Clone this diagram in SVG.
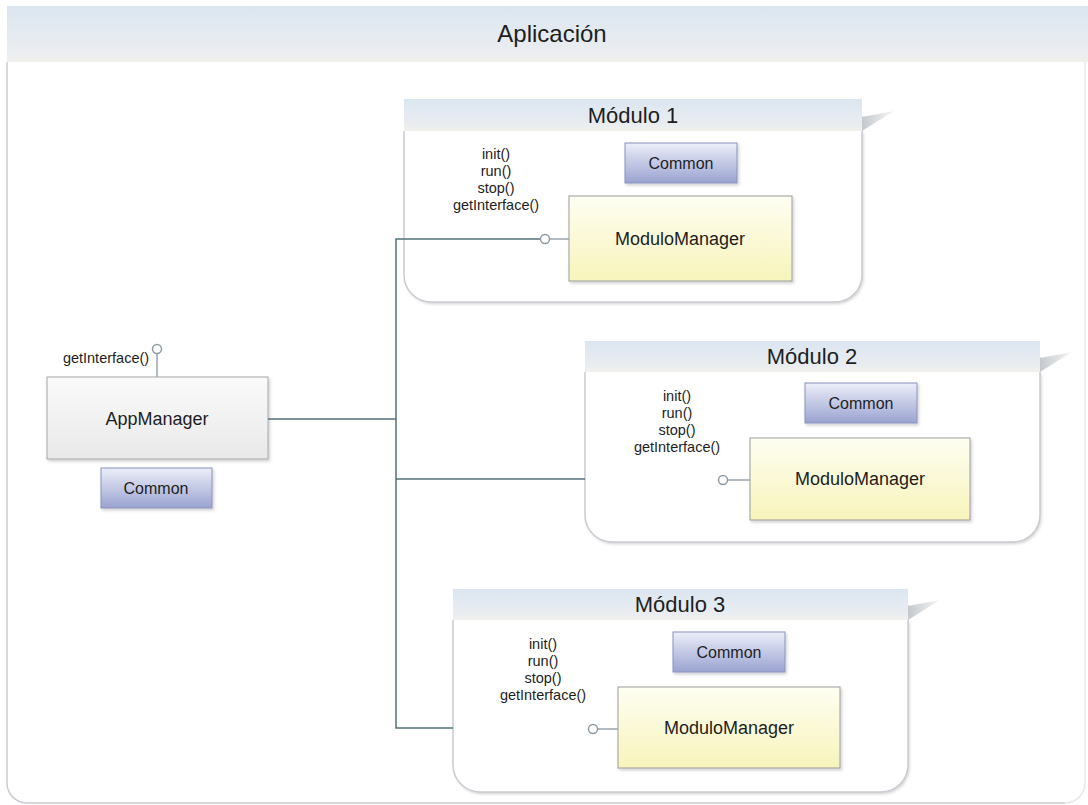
<svg xmlns="http://www.w3.org/2000/svg" width="1088" height="805" viewBox="0 0 1088 805">
  <defs>
    <linearGradient id="hdr" x1="0" y1="0" x2="0" y2="1">
      <stop offset="0" stop-color="#dbe6f1"/>
      <stop offset="0.8" stop-color="#eaedf0"/>
      <stop offset="1" stop-color="#f1efeb"/>
    </linearGradient>
    <linearGradient id="tab" x1="0" y1="0" x2="1" y2="0">
      <stop offset="0" stop-color="#c4c8cd"/>
      <stop offset="1" stop-color="#f6f6f6"/>
    </linearGradient>
    <linearGradient id="common" x1="0" y1="0" x2="0" y2="1">
      <stop offset="0" stop-color="#eceef8"/>
      <stop offset="1" stop-color="#9aa3d1"/>
    </linearGradient>
    <linearGradient id="mm" x1="0" y1="0" x2="0" y2="1">
      <stop offset="0" stop-color="#fefef2"/>
      <stop offset="1" stop-color="#f8f4bb"/>
    </linearGradient>
    <linearGradient id="app" x1="0" y1="0" x2="0" y2="1">
      <stop offset="0" stop-color="#fafafa"/>
      <stop offset="1" stop-color="#e9e9e9"/>
    </linearGradient>
    <filter id="shadow" x="-5%" y="-5%" width="115%" height="120%">
      <feDropShadow dx="1.5" dy="2" stdDeviation="1.5" flood-color="#000" flood-opacity="0.18"/>
    </filter>
  </defs>
  <style>
    text { font-family: "Liberation Sans", Arial, sans-serif; fill: #1e1e1e; }
    .title { font-size: 24px; text-anchor: middle; }
    .mtitle { font-size: 22px; text-anchor: middle; }
    .method { font-size: 14.5px; text-anchor: middle; }
    .label { font-size: 18px; text-anchor: middle; }
    .clabel { font-size: 16px; text-anchor: middle; }
    .edge { fill: none; stroke: #c9ccd2; stroke-width: 1.5; }
    .body { fill: #ffffff; }
    .common { fill: url(#common); stroke: #8a92bd; stroke-width: 1; filter: url(#shadow); }
    .mm { fill: url(#mm); stroke: #9c9c9c; stroke-width: 1; filter: url(#shadow); }
    .app { fill: url(#app); stroke: #a6a6a6; stroke-width: 1; filter: url(#shadow); }
    .wire { fill: none; stroke: #52717b; stroke-width: 1.5; }
    .stub { fill: none; stroke: #9aa5ad; stroke-width: 1.5; }
    .lolli { fill: #ffffff; stroke: #8d9ba5; stroke-width: 1.5; }
  </style>

  <rect width="1088" height="805" fill="#ffffff"/>

  <!-- Application container -->
  <g id="aplicacion">
    <path class="body" d="M7,62 V783 A20,20 0 0 0 27,803 H1065 A20,20 0 0 0 1085,783 V62 Z"/>
    <path class="edge" d="M7,62 V783 A20,20 0 0 0 27,803 H1065"/>
    <path fill="none" stroke="#e6e8ec" stroke-width="1.5" d="M1065,803 A20,20 0 0 0 1085,783 V62"/>
    <rect x="7" y="6" width="1081" height="56" fill="url(#hdr)"/>
    <text class="title" x="552" y="42">Aplicación</text>
  </g>

  <!-- Module 1 -->
  <g id="modulo1">
    <g filter="url(#shadow)">
      <path class="body" d="M404,131 V275 A27,27 0 0 0 431,302 H835 A27,27 0 0 0 862,275 V131 Z"/>
    </g>
    <path class="edge" d="M404,131 V275 A27,27 0 0 0 431,302 H835 A27,27 0 0 0 862,275 V116"/>
    <rect x="404" y="99" width="458" height="32" fill="url(#hdr)"/>
    <polygon points="862,117 894,111 862,131" fill="url(#tab)"/>
    <text class="mtitle" x="633" y="123">Módulo 1</text>
    <text class="method" x="496" y="159">init()</text>
    <text class="method" x="496" y="176">run()</text>
    <text class="method" x="496" y="193">stop()</text>
    <text class="method" x="496" y="210">getInterface()</text>
  </g>
  <g id="common1">
    <rect class="common" x="625" y="143" width="112" height="40"/>
    <text class="clabel" x="681" y="169">Common</text>
  </g>
  <g id="moduloManager1">
    <rect class="mm" x="569" y="196" width="223" height="85"/>
    <text class="label" x="680" y="245">ModuloManager</text>
  </g>

  <!-- Module 2 -->
  <g id="modulo2">
    <g filter="url(#shadow)">
      <path class="body" d="M585,372 V515 A27,27 0 0 0 612,542 H1013 A27,27 0 0 0 1040,515 V372 Z"/>
    </g>
    <path class="edge" d="M585,372 V515 A27,27 0 0 0 612,542 H1013 A27,27 0 0 0 1040,515 V357"/>
    <rect x="585" y="341" width="455" height="31" fill="url(#hdr)"/>
    <polygon points="1040,358 1072,352 1040,372" fill="url(#tab)"/>
    <text class="mtitle" x="812" y="364">Módulo 2</text>
    <text class="method" x="677" y="401">init()</text>
    <text class="method" x="677" y="418">run()</text>
    <text class="method" x="677" y="435">stop()</text>
    <text class="method" x="677" y="452">getInterface()</text>
  </g>
  <g id="common2">
    <rect class="common" x="805" y="383" width="112" height="40"/>
    <text class="clabel" x="861" y="409">Common</text>
  </g>
  <g id="moduloManager2">
    <rect class="mm" x="750" y="438" width="220" height="82"/>
    <text class="label" x="860" y="485">ModuloManager</text>
  </g>

  <!-- Module 3 -->
  <g id="modulo3">
    <g filter="url(#shadow)">
      <path class="body" d="M453,620 V765 A27,27 0 0 0 480,792 H881 A27,27 0 0 0 908,765 V620 Z"/>
    </g>
    <path class="edge" d="M453,620 V765 A27,27 0 0 0 480,792 H881 A27,27 0 0 0 908,765 V605"/>
    <rect x="453" y="589" width="455" height="31" fill="url(#hdr)"/>
    <polygon points="908,606 940,600 908,620" fill="url(#tab)"/>
    <text class="mtitle" x="680" y="612">Módulo 3</text>
    <text class="method" x="543" y="649">init()</text>
    <text class="method" x="543" y="666">run()</text>
    <text class="method" x="543" y="683">stop()</text>
    <text class="method" x="543" y="700">getInterface()</text>
  </g>
  <g id="common3">
    <rect class="common" x="673" y="632" width="112" height="40"/>
    <text class="clabel" x="729" y="658">Common</text>
  </g>
  <g id="moduloManager3">
    <rect class="mm" x="618" y="687" width="222" height="81"/>
    <text class="label" x="729" y="734">ModuloManager</text>
  </g>

  <!-- Application manager -->
  <g id="appManager">
    <rect class="app" x="47" y="377" width="221" height="82"/>
    <text class="label" x="157" y="425">AppManager</text>
    <line class="stub" x1="157" y1="354" x2="157" y2="377"/>
    <circle class="lolli" cx="157" cy="349" r="4.5"/>
    <text class="method" x="106" y="363">getInterface()</text>
  </g>
  <g id="commonApp">
    <rect class="common" x="101" y="468" width="111" height="40"/>
    <text class="clabel" x="156" y="494">Common</text>
  </g>

  <!-- Connectors: bus from AppManager to each module interface -->
  <g id="connectors">
    <path class="wire" d="M268,419 H396"/>
    <path class="wire" d="M541,239 H396 V728 H453"/>
    <path class="wire" d="M396,479 H585"/>
    <line class="stub" x1="549" y1="239" x2="569" y2="239"/>
    <circle class="lolli" cx="545" cy="239" r="4.5"/>
    <line class="stub" x1="727" y1="480" x2="750" y2="480"/>
    <circle class="lolli" cx="723" cy="480" r="4.5"/>
    <line class="stub" x1="597" y1="729" x2="618" y2="729"/>
    <circle class="lolli" cx="593" cy="729" r="4.5"/>
  </g>
</svg>
